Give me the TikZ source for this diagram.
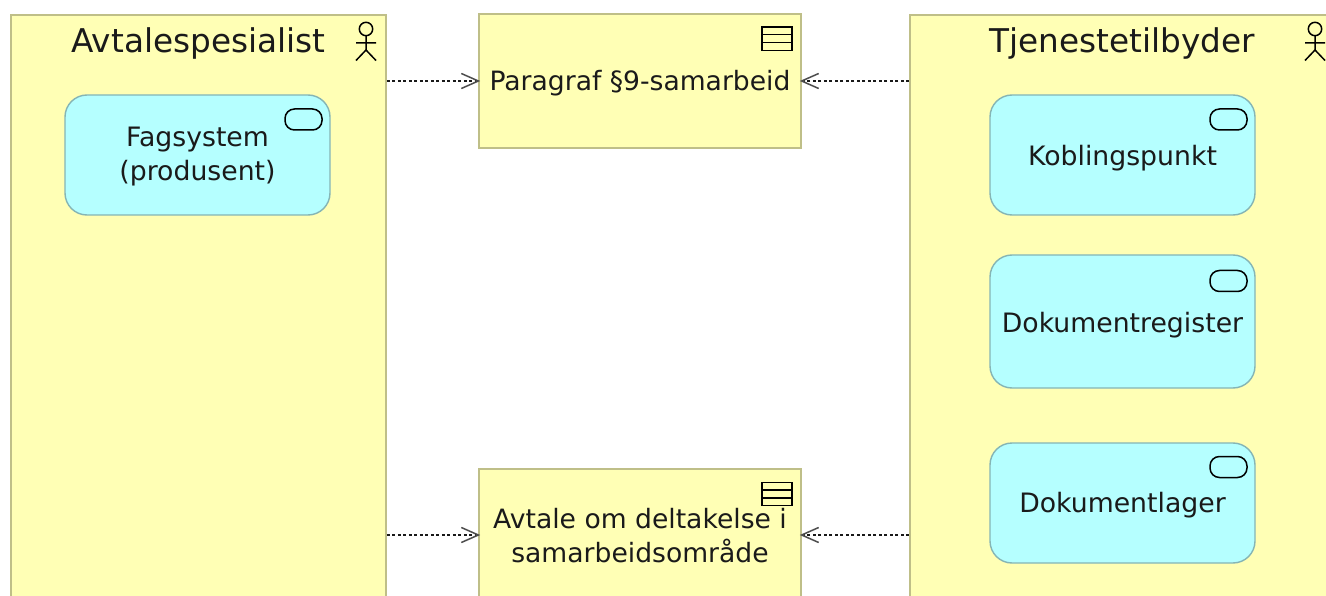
\documentclass[tikz,border=0pt]{standalone}
\usepackage{fontspec}
\setmainfont{DejaVu Sans}
\usetikzlibrary{arrows.meta}
\definecolor{elemyellow}{HTML}{FFFFB5}
\definecolor{edgeyellow}{HTML}{BFBF88}
\definecolor{elemblue}{HTML}{B5FFFF}
\definecolor{edgeblue}{HTML}{85B5B5}
\definecolor{inkdark}{HTML}{1A1A1A}
\newcommand{\settext}[2]{\raisebox{#1}[0pt][0pt]{\begin{tabular}[t]{@{}c@{}}#2\end{tabular}}}
\tikzset{
  x=1pt,y=-1pt,
  actorbox/.style={draw=edgeyellow,fill=elemyellow,line width=1.6pt,inner sep=0pt,minimum height=700pt,anchor=north},
  objbox/.style={draw=edgeyellow,fill=elemyellow,line width=1.6pt,inner sep=0pt,minimum width=322pt,text=inkdark,font=\fontsize{26.6pt}{34pt}\selectfont},
  svcbox/.style={draw=edgeblue,fill=elemblue,line width=1.4pt,rounded corners=22pt,inner sep=0pt,minimum width=265pt,text=inkdark,font=\fontsize{26.7pt}{34pt}\selectfont},
  titletext/.style={text=inkdark,font=\fontsize{32.7pt}{34pt}\selectfont,inner sep=0pt,anchor=base},
  iconline/.style={draw=black,line width=1.5pt},
  depline/.style={draw=black!90,line width=1.3pt,dash pattern=on 3pt off 2.5pt,shorten >=-2pt,-{Straight Barb[length=17pt,width=15pt,line width=1.5pt,color=black!70]}},
  pics/actoricon/.style={code={
    \draw[iconline] (0,-12) circle (6.7);
    \draw[iconline] (0,-5) -- (0,9) (-10,2) -- (10,2) (-10,19.5) -- (0,9) -- (10,19.5);
  }},
  pics/svcicon/.style={code={
    \draw[iconline,rounded corners=9.5pt] (-18.5,-10.5) rectangle (18.5,10.5);
  }},
  pics/objicon/.style={code={
    \draw[iconline] (-15,-11.7) rectangle (15,11.7) (-15,-4) -- (15,-4) (-15,3.8) -- (15,3.8);
  }}
}
\begin{document}
\begin{tikzpicture}
\useasboundingbox (0,0) rectangle (1326,596);
\clip (0,0) rectangle (1326,596);
\fill[white] (0,0) rectangle (1326,596);
\node[actorbox,minimum width=375pt] (spes) at (198.5,14) {};
\node[actorbox,minimum width=422pt] (tilb) at (1121,14) {};
\node[objbox,minimum height=134pt] (para) at (640,81) {\settext{-10pt}{Paragraf §9-samarbeid}};
\node[objbox,minimum height=132pt] (avt) at (640,535) {\settext{7pt}{Avtale om deltakelse i\\samarbeidsområde}};
\node[titletext] (spestitle) at (198.5,53) {Avtalespesialist};
\node[titletext] (tilbtitle) at (1122,53) {Tjenestetilbyder};
\node[svcbox,minimum height=120pt] (fag) at (197.5,155) {\settext{8pt}{Fagsystem\\(produsent)}};
\node[svcbox,minimum height=120pt] (kob) at (1122.5,155) {\settext{-11pt}{Koblingspunkt}};
\node[svcbox,minimum height=133pt] (reg) at (1122.5,321.5) {\settext{-10.5pt}{Dokumentregister}};
\node[svcbox,minimum height=120pt] (lag) at (1122.5,503) {\settext{-9pt}{Dokumentlager}};
\pic at (366,41) {actoricon};
\pic at (1315,41) {actoricon};
\pic at (303.5,119.5) {svcicon};
\pic at (1228.5,119.5) {svcicon};
\pic at (1228.5,281) {svcicon};
\pic at (1228.5,467) {svcicon};
\pic at (777,38.7) {objicon};
\pic at (777,494) {objicon};
\draw[depline] (spes.east |- para.west) -- (para.west);
\draw[depline] (tilb.west |- para.east) -- (para.east);
\draw[depline] (spes.east |- avt.west) -- (avt.west);
\draw[depline] (tilb.west |- avt.east) -- (avt.east);
\end{tikzpicture}
\end{document}
